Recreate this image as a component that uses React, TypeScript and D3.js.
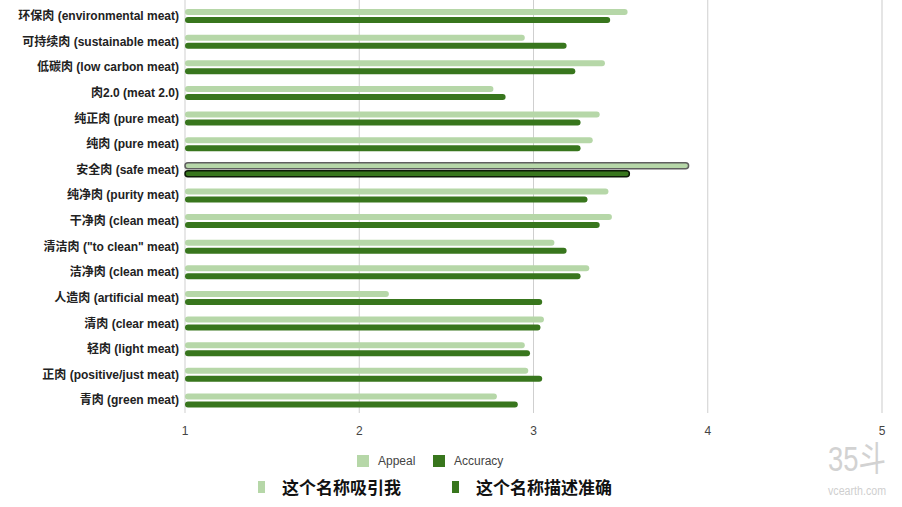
import * as d3 from "d3";

const categories = [
  "环保肉 (environmental meat)",
  "可持续肉 (sustainable meat)",
  "低碳肉 (low carbon meat)",
  "肉2.0 (meat 2.0)",
  "纯正肉 (pure meat)",
  "纯肉 (pure meat)",
  "安全肉 (safe meat)",
  "纯净肉 (purity meat)",
  "干净肉 (clean meat)",
  "清洁肉 (\"to clean\" meat)",
  "洁净肉 (clean meat)",
  "人造肉 (artificial meat)",
  "清肉 (clear meat)",
  "轻肉 (light meat)",
  "正肉 (positive/just meat)",
  "青肉 (green meat)",
];

const appeal = [3.54, 2.95, 3.41, 2.77, 3.38, 3.34, 3.89, 3.43, 3.45, 3.12, 3.32, 2.17, 3.06, 2.95, 2.97, 2.79];
const accuracy = [3.44, 3.19, 3.24, 2.84, 3.27, 3.27, 3.55, 3.31, 3.38, 3.19, 3.27, 3.05, 3.04, 2.98, 3.05, 2.91];

const seriesNames = ["Appeal", "Accuracy"];
const seriesZh = ["这个名称吸引我", "这个名称描述准确"];
const seriesColors = ["#b6d7a8", "#38761d"];
const xTicks = [1, 2, 3, 4, 5];
const highlighted = "安全肉 (safe meat)";

const W = 902;
const H = 507;
const font = "'Liberation Sans', Arial, 'Noto Sans CJK SC', sans-serif";

export default function App() {
  const x = d3.scaleLinear().domain([1, 5]).range([185, 882]);
  const y = d3.scaleBand<string>().domain(categories).range([3, 413]);
  const inner = d3.scaleBand<string>().domain(seriesNames).range([6, 20]).paddingInner(0.25);
  const values = [appeal, accuracy];

  return (
    <div style={{ position: "fixed", left: 0, top: 0, width: W, height: H, background: "#fff" }}>
      <svg width={W} height={H} style={{ display: "block" }} fontFamily={font}>
        {/* gridlines */}
        {xTicks.map((t) => (
          <line
            key={t}
            x1={x(t)}
            x2={x(t)}
            y1={0}
            y2={413}
            stroke={t === 5 ? "#dcdcdc" : "#cfcfcf"}
            strokeWidth={t === 5 ? 1.5 : 1}
          />
        ))}
        {xTicks.map((t) => (
          <text key={"t" + t} x={x(t)} y={435} textAnchor="middle" fontSize={12} fill="#444">
            {t}
          </text>
        ))}

        {/* bars */}
        {categories.map((c, i) => {
          const sel = c === highlighted;
          return (
            <g key={c} transform={`translate(0,${y(c)})`}>
              {seriesNames.map((s, k) => (
                <rect
                  key={s}
                  x={x(1)}
                  y={inner(s)}
                  width={x(values[k][i]) - x(1)}
                  height={inner.bandwidth()}
                  rx={3}
                  fill={seriesColors[k]}
                  stroke={sel ? (k === 0 ? "#5f5f5f" : "#0d1a07") : "none"}
                  strokeWidth={sel ? 1.5 : 0}
                />
              ))}
              <text
                x={179}
                y={y.bandwidth() / 2}
                dy="0.35em"
                textAnchor="end"
                fontSize={12}
                fontWeight="bold"
                fill="#222"
              >
                {c}
              </text>
            </g>
          );
        })}

        {/* legend (English) */}
        {seriesNames.map((s, k) => {
          const lx = k === 0 ? 357 : 433;
          return (
            <g key={s}>
              <rect x={lx} y={455} width={12} height={12} fill={seriesColors[k]} />
              <text x={lx + 21} y={461} dy="0.35em" fontSize={12} fill="#444">
                {s}
              </text>
            </g>
          );
        })}

        {/* legend (Chinese) */}
        {seriesZh.map((s, k) => {
          const lx = k === 0 ? 258 : 452;
          return (
            <g key={s}>
              <rect x={lx} y={481} width={7} height={12} fill={seriesColors[k]} />
              <text
                x={lx + 24}
                y={488}
                dy="0.35em"
                fontSize={17}
                fontWeight="bold"
                fill="#111"
                fontFamily="'Noto Sans CJK SC', sans-serif"
              >
                {s}
              </text>
            </g>
          );
        })}

        {/* watermark */}
        <g transform="translate(828,471) scale(1,1.4)">
          <text
            x={0}
            y={0}
            fontSize={25}
            fill="#d2d2d2"
            textLength={58}
            lengthAdjust="spacingAndGlyphs"
            fontFamily="'Liberation Sans Narrow', 'Liberation Sans', 'Noto Sans CJK SC', sans-serif"
          >
            35斗
          </text>
        </g>
        <text
          x={828}
          y={495}
          fontSize={12}
          fill="#cfcfcf"
          textLength={58}
          lengthAdjust="spacingAndGlyphs"
          fontFamily="'Liberation Sans Narrow', 'Liberation Sans', sans-serif"
        >
          vcearth.com
        </text>
      </svg>
    </div>
  );
}
